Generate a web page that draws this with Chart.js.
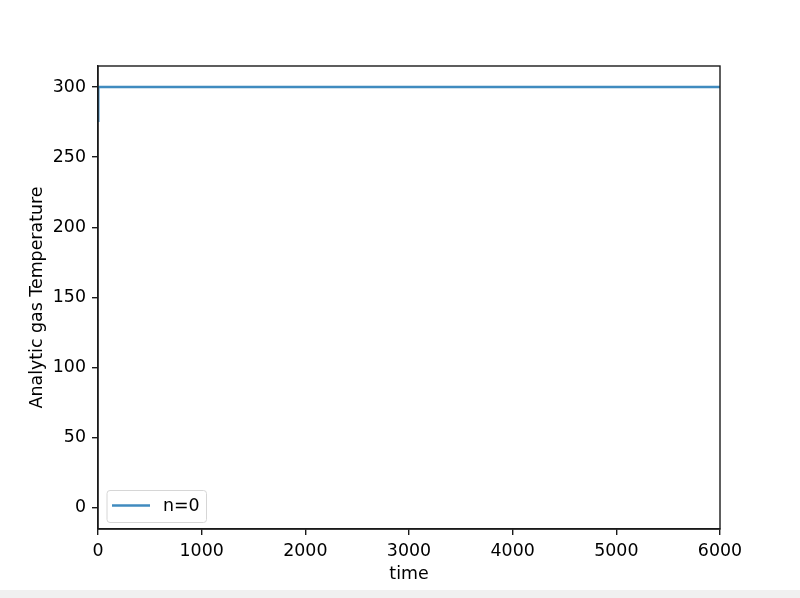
<!DOCTYPE html>
<html>
<head>
<meta charset="utf-8">
<script src="https://cdn.jsdelivr.net/npm/chart.js@4"></script>
<style>
  html,body{margin:0;padding:0;background:#f0f0f0;}
  #wrap{width:800px;height:590px;background:#fff;}
</style>
</head>
<body>
<div id="wrap"><canvas id="c" width="800" height="590"></canvas></div>
<script>
// data
const times = [0, 2, 6000];
const temps = [276, 300, 300];
const seriesLabel = 'n=0';
const xTicks = [0, 1000, 2000, 3000, 4000, 5000, 6000];
const yTicks = [0, 50, 100, 150, 200, 250, 300];

const lineColor = 'rgba(31,119,180,0.85)';
const font = {family: 'DejaVu Sans', size: 17.4};
const spine = '#1a1a1a';

// top/right spines + legend box in the lower left corner
const frame = {
  id: 'frame',
  afterDraw(chart){
    const {ctx, chartArea: a} = chart;
    ctx.save();
    ctx.strokeStyle = spine;
    ctx.lineWidth = 1.4;
    ctx.strokeRect(a.left, a.top, a.right - a.left, a.bottom - a.top);

    const ds = chart.data.datasets[0];
    const bx = 107, by = 490.5, bw = 99.5, bh = 32;
    ctx.fillStyle = 'rgba(255,255,255,0.8)';
    ctx.strokeStyle = '#d6d6d6';
    ctx.lineWidth = 1;
    ctx.beginPath();
    ctx.roundRect(bx, by, bw, bh, 3);
    ctx.fill(); ctx.stroke();
    ctx.strokeStyle = ds.borderColor;
    ctx.lineWidth = ds.borderWidth;
    ctx.beginPath();
    ctx.moveTo(112, 505.5); ctx.lineTo(150, 505.5);
    ctx.stroke();
    ctx.fillStyle = '#000';
    ctx.font = '17.4px "DejaVu Sans"';
    ctx.textBaseline = 'middle';
    ctx.fillText(ds.label, 163, 506);
    ctx.restore();
  }
};

new Chart(document.getElementById('c'), {
  type: 'line',
  data: {
    datasets: [{
      label: seriesLabel,
      data: times.map((t, i) => ({x: t, y: temps[i]})),
      borderColor: lineColor,
      borderWidth: 2.6,
      pointRadius: 0,
      tension: 0
    }]
  },
  options: {
    responsive: false,
    animation: false,
    layout: {padding: {left: 27, right: 80, top: 66, bottom: 0}},
    plugins: {legend: {display: false}, tooltip: {enabled: false}},
    scales: {
      x: {
        type: 'linear', min: 0, max: 6000,
        afterBuildTicks: s => { s.ticks = xTicks.map(v => ({value: v})); },
        afterFit: s => { s.height = 61; },
        grid: {drawOnChartArea: false, drawTicks: true, tickLength: 6, color: spine, lineWidth: 1.4},
        border: {display: true, color: spine, width: 1.4},
        ticks: {color: '#000', font, padding: 6, maxRotation: 0, callback: v => String(v)},
        title: {display: true, text: 'time', color: '#000', font, padding: {top: 0, bottom: 5}}
      },
      y: {
        type: 'linear', min: -15, max: 315,
        afterBuildTicks: s => { s.ticks = yTicks.map(v => ({value: v})); },
        afterFit: s => { s.width = 71; },
        grid: {drawOnChartArea: false, drawTicks: true, tickLength: 6, color: spine, lineWidth: 1.4},
        border: {display: true, color: spine, width: 1.4},
        ticks: {color: '#000', font, padding: 6, callback: v => String(v)},
        title: {display: true, text: 'Analytic gas Temperature', color: '#000', font, padding: 0}
      }
    }
  },
  plugins: [frame]
});
</script>
</body>
</html>
